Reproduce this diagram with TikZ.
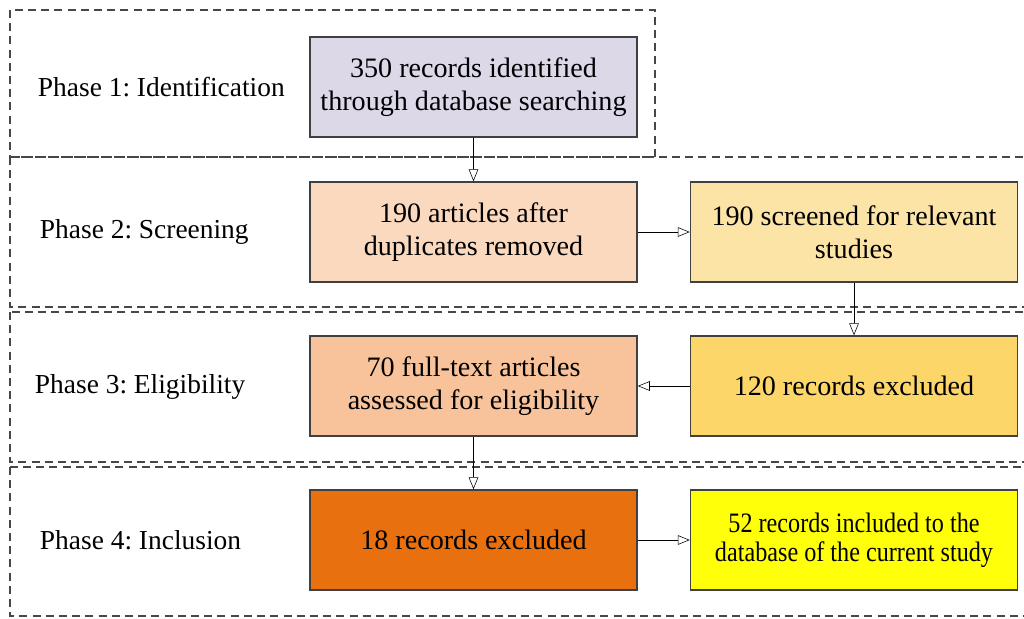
\documentclass[tikz,border=0pt]{standalone}
\usepackage{fontspec}
\setmainfont{Liberation Serif}
\newfontfamily\boxfont{Liberation Serif}
\newfontfamily\narrowfont[FakeStretch=0.86]{Liberation Serif}
\usetikzlibrary{arrows.meta}
\frenchspacing

\definecolor{idcol}{HTML}{DCD8E8}
\definecolor{dupcol}{HTML}{FBD9BE}
\definecolor{scrcol}{HTML}{FCE4A6}
\definecolor{elcol}{HTML}{F8C39A}
\definecolor{exccol}{HTML}{FDD66A}
\definecolor{inccol}{HTML}{E9700F}
\definecolor{fincol}{HTML}{FFFF0A}

\begin{document}
\begin{tikzpicture}[x=0.025cm,y=-0.025cm,
    >={Triangle[open,length=3mm,width=2.4mm]},
    phase/.style={draw=black!72,line width=1.7pt,dash pattern=on 2mm off 1.3mm},
    stepbox/.style={draw=black!75,line width=1pt,minimum width=8.175cm,
        minimum height=2.5cm,align=center,font=\boxfont\fontsize{20}{23.5}\selectfont},
    phaselabel/.style={anchor=west,font=\boxfont\fontsize{19.5}{23}\selectfont}]
        \useasboundingbox (0,0) rectangle (1024,618);
        \clip (0,0) rectangle (1024,618);
        % phases
        \draw [phase] (10,10) rectangle (655,157);
        \draw [phase] (10,157) rectangle (1040,307);
        \draw [phase] (10,312) rectangle (1040,462);
        \draw [phase] (10,467) rectangle (1040,616);

        \node [phaselabel] (p1) at (33,87) {Phase 1: Identification};
        \node [phaselabel] (p2) at (35,232) {Phase 2: Screening};
        \node [phaselabel] (p3) at (30,387) {Phase 3: Eligibility};
        \node [phaselabel] (p4) at (35,540) {Phase 4: Inclusion};

        % boxes
        \node [stepbox,fill=idcol] (ident) at (473.5,87)
            {350 records identified\\through database searching};
        \node [stepbox,fill=dupcol] (dup) at (473.5,232)
            {190 articles after\\duplicates removed};
        \node [stepbox,fill=scrcol] (screen) at (854,232)
            {190 screened for relevant\\studies};
        \node [stepbox,fill=elcol] (elig) at (473.5,386)
            {70 full-text articles\\assessed for eligibility};
        \node [stepbox,fill=exccol] (excl) at (854,386)
            {120 records excluded};
        \node [stepbox,fill=inccol] (excl2) at (473.5,540)
            {18 records excluded};
        \node [stepbox,fill=fincol,font=\narrowfont\fontsize{20}{20.5}\selectfont] (incl) at (854,540)
            {52 records included to the\\database of the current study};

        % arrows
        \draw [->,thin] (ident) -- (dup);
        \draw [->,thin] (dup) -- (screen);
        \draw [->,thin] (screen) -- (excl);
        \draw [->,thin] (excl) -- (elig);
        \draw [->,thin] (elig) -- (excl2);
        \draw [->,thin] (excl2) -- (incl);
    \end{tikzpicture}
\end{document}
